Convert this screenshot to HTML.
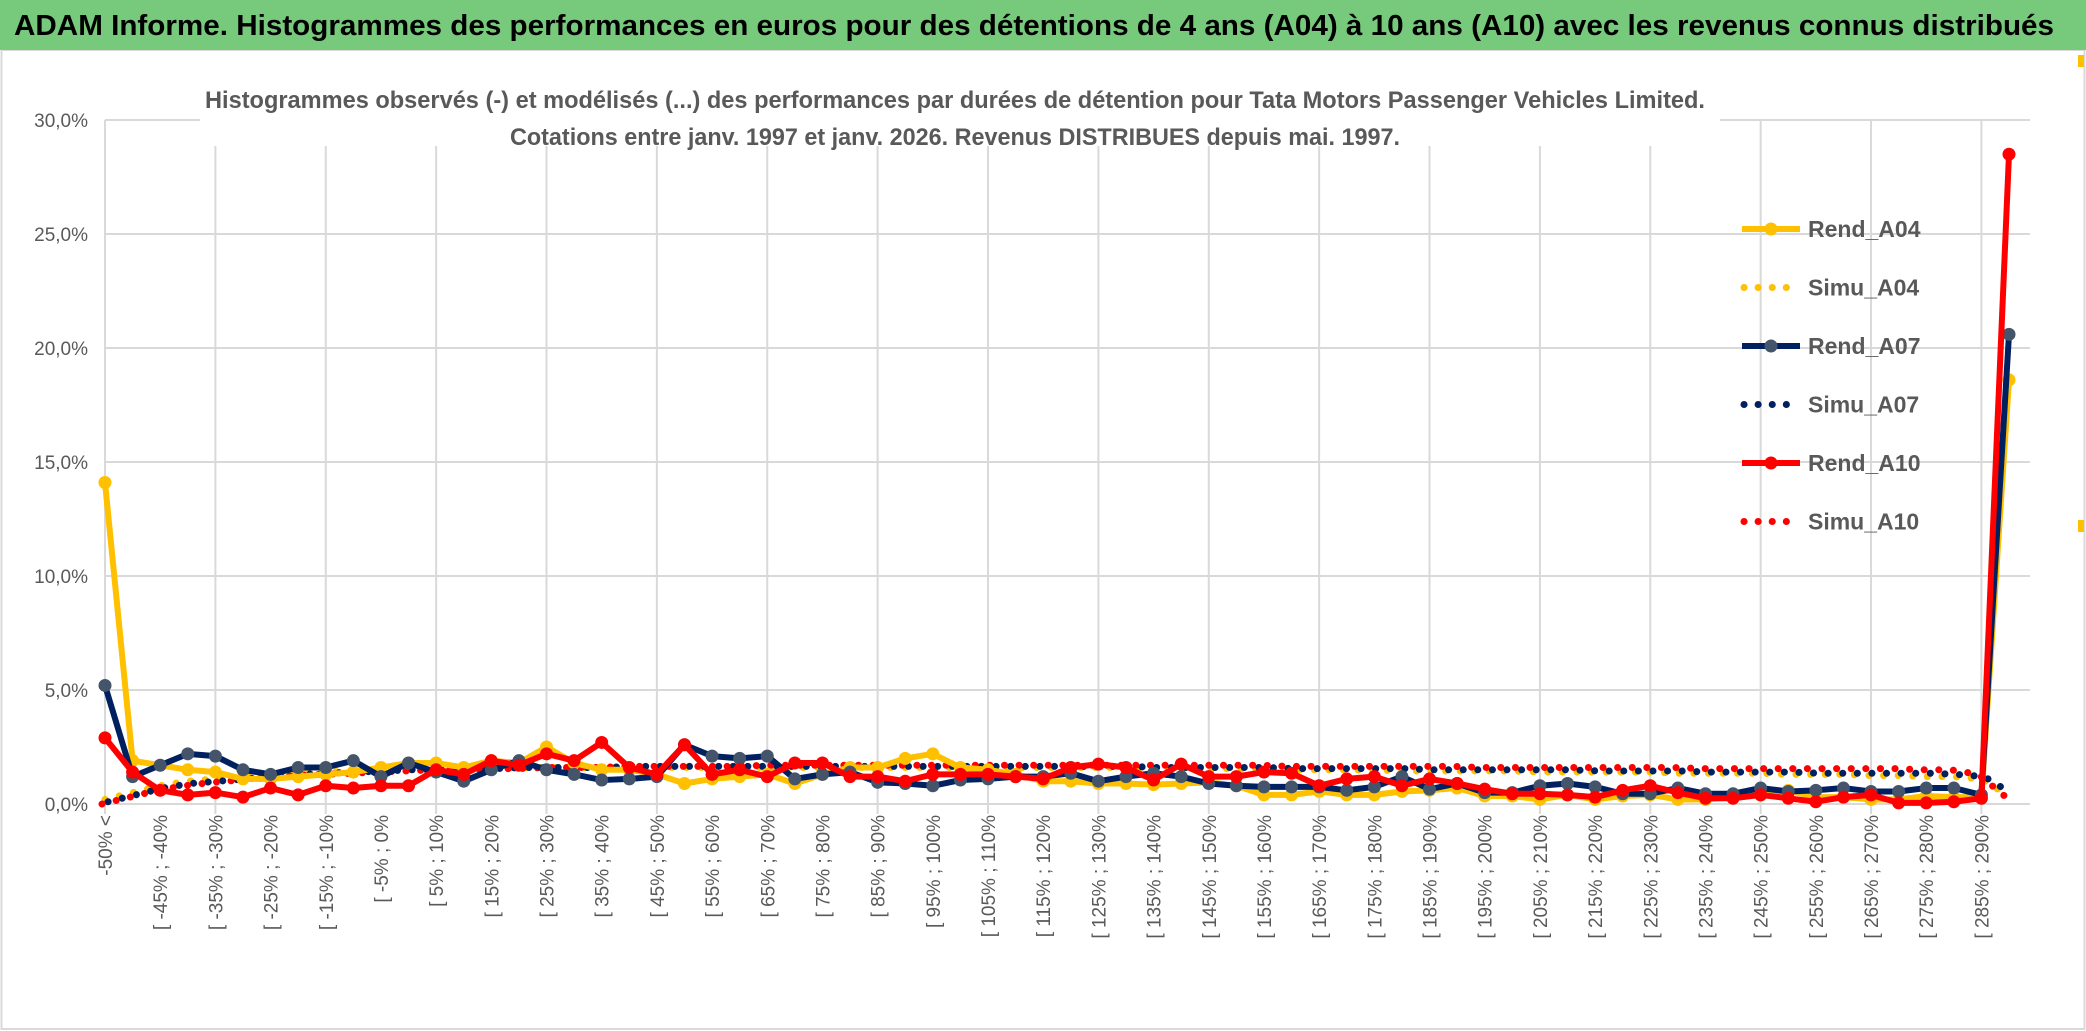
<!DOCTYPE html>
<html><head><meta charset="utf-8"><style>
body{margin:0;background:#fff;}
svg{display:block;font-family:"Liberation Sans",sans-serif;}
</style></head><body>
<svg id="chart" width="2086" height="1031" xmlns="http://www.w3.org/2000/svg">
<rect x="0" y="0" width="2086" height="1031" fill="#fff"/>
<rect x="1.5" y="50" width="2083" height="979" fill="none" stroke="#d9d9d9" stroke-width="2"/>
<rect x="2078" y="55" width="6" height="12" fill="#ffc000"/>
<rect x="2078" y="520" width="6" height="12" fill="#ffc000"/>
<rect x="0" y="0" width="2086" height="50" fill="#77c97b"/>
<text x="14" y="35" font-size="29" font-weight="bold" fill="#000" textLength="2040" lengthAdjust="spacingAndGlyphs">ADAM Informe. Histogrammes des performances en euros pour des détentions de 4 ans (A04) à 10 ans (A10) avec les revenus connus distribués</text>
<g id="grid"></g>
<g id="series"></g>
<g id="axes"></g>
<rect x="200" y="76" width="1520" height="70" fill="#fff"/>
<text x="955" y="108" font-size="24" font-weight="bold" fill="#595959" text-anchor="middle" textLength="1500" lengthAdjust="spacingAndGlyphs">Histogrammes observés (-) et modélisés (...) des performances par durées de détention pour Tata Motors Passenger Vehicles Limited.</text>
<text x="955" y="145" font-size="24" font-weight="bold" fill="#595959" text-anchor="middle" textLength="890" lengthAdjust="spacingAndGlyphs">Cotations entre janv. 1997 et janv. 2026. Revenus DISTRIBUES depuis mai. 1997.</text>
<g id="legend"></g>
</svg>
<script>
const categories = (function(){ const c=["-50% <"]; for(let k=1;k<=68;k++){c.push("[ "+(-50+5*(k-1))+"% ; "+(-50+5*k)+"%");} c.push("290% >"); return c; })();
const rendA04 = [14.1,1.9,1.7,1.5,1.4,1.1,1.1,1.2,1.3,1.4,1.6,1.8,1.8,1.6,1.9,1.8,2.5,1.8,1.5,1.5,1.3,0.9,1.1,1.2,1.3,0.9,1.3,1.6,1.6,2.0,2.2,1.6,1.5,1.3,1.0,1.0,0.9,0.9,0.85,0.9,0.95,0.8,0.4,0.4,0.55,0.4,0.4,0.55,0.6,0.7,0.35,0.35,0.2,0.4,0.2,0.35,0.4,0.2,0.2,0.3,0.4,0.6,0.3,0.3,0.2,0.2,0.35,0.3,0.3,18.6];
const rendA07 = [5.2,1.2,1.7,2.2,2.1,1.5,1.3,1.6,1.6,1.9,1.2,1.8,1.4,1.0,1.5,1.9,1.5,1.3,1.05,1.1,1.2,2.6,2.1,2.0,2.1,1.1,1.3,1.4,0.95,0.9,0.8,1.05,1.1,1.2,1.2,1.35,1.0,1.2,1.35,1.2,0.9,0.8,0.75,0.75,0.75,0.6,0.75,1.2,0.65,0.9,0.5,0.5,0.8,0.9,0.75,0.45,0.45,0.7,0.45,0.45,0.7,0.55,0.6,0.7,0.55,0.55,0.7,0.7,0.4,20.6];
const rendA10 = [2.9,1.4,0.6,0.4,0.5,0.3,0.7,0.4,0.8,0.7,0.8,0.8,1.5,1.3,1.9,1.7,2.2,1.9,2.7,1.6,1.3,2.6,1.3,1.5,1.2,1.8,1.8,1.2,1.2,1.0,1.3,1.3,1.3,1.2,1.1,1.6,1.75,1.6,1.05,1.75,1.2,1.2,1.4,1.35,0.8,1.1,1.2,0.8,1.1,0.9,0.65,0.45,0.45,0.4,0.3,0.6,0.8,0.5,0.25,0.25,0.4,0.25,0.1,0.3,0.4,0.05,0.05,0.1,0.25,28.5];
const simuA04 = [0.2,0.5,0.8,1.0,1.1,1.2,1.3,1.35,1.4,1.45,1.5,1.5,1.55,1.55,1.6,1.6,1.6,1.6,1.6,1.6,1.6,1.6,1.6,1.6,1.6,1.6,1.6,1.6,1.6,1.6,1.6,1.6,1.6,1.6,1.6,1.6,1.6,1.6,1.55,1.55,1.55,1.55,1.5,1.5,1.5,1.5,1.5,1.45,1.45,1.45,1.45,1.45,1.4,1.4,1.4,1.4,1.4,1.35,1.35,1.35,1.35,1.3,1.3,1.3,1.25,1.25,1.2,1.2,1.1,0.35];
const simuA07 = [0.1,0.4,0.7,0.9,1.0,1.1,1.2,1.3,1.35,1.4,1.45,1.5,1.5,1.55,1.55,1.6,1.6,1.6,1.6,1.65,1.65,1.65,1.65,1.65,1.65,1.65,1.65,1.65,1.65,1.65,1.65,1.65,1.65,1.65,1.65,1.65,1.65,1.65,1.6,1.6,1.6,1.6,1.6,1.55,1.55,1.55,1.55,1.55,1.5,1.5,1.5,1.5,1.5,1.5,1.45,1.45,1.45,1.45,1.4,1.4,1.4,1.4,1.35,1.35,1.35,1.35,1.35,1.3,1.2,0.45];
const simuA10 = [0.0,0.3,0.6,0.8,0.95,1.05,1.15,1.25,1.3,1.35,1.4,1.45,1.5,1.5,1.55,1.55,1.6,1.6,1.6,1.65,1.65,1.65,1.65,1.65,1.7,1.7,1.7,1.7,1.7,1.7,1.7,1.7,1.7,1.7,1.7,1.7,1.7,1.7,1.7,1.7,1.7,1.7,1.7,1.65,1.65,1.65,1.65,1.65,1.65,1.65,1.6,1.6,1.6,1.6,1.6,1.6,1.6,1.6,1.55,1.55,1.55,1.55,1.55,1.55,1.55,1.55,1.5,1.5,1.3,0.3];
const yTicks = [0,5,10,15,20,25,30];
const yTickLabels = ["0,0%","5,0%","10,0%","15,0%","20,0%","25,0%","30,0%"];
const seriesNames = ["Rend_A04","Simu_A04","Rend_A07","Simu_A07","Rend_A10","Simu_A10"];

const NS="http://www.w3.org/2000/svg";
const X0=105, X1=2009, Y0=804, YTOP=120, PLOTR=2030;
function xPos(i){return X0+(X1-X0)*i/(categories.length-1);}
function yPos(v){return Y0-(Y0-YTOP)*v/30;}
function mk(tag,attrs,parent){const e=document.createElementNS(NS,tag);for(const k in attrs)e.setAttribute(k,attrs[k]);parent.appendChild(e);return e;}
const grid=document.getElementById('grid'), axes=document.getElementById('axes'), ser=document.getElementById('series'), leg=document.getElementById('legend');

yTicks.forEach((t,i)=>{
  const l=mk('line',{x1:X0,x2:PLOTR,y1:yPos(t),y2:yPos(t),stroke:'#d9d9d9','stroke-width':2},grid);
  
  
  const tx=mk('text',{x:88,y:yPos(t)+7,'font-size':19,fill:'#595959','text-anchor':'end'},axes);
  tx.textContent=yTickLabels[i];
  
  
});
for(let i=0;i<categories.length;i+=4){
  const l=mk('line',{x1:xPos(i),x2:xPos(i),y1:YTOP,y2:Y0+10,stroke:'#d9d9d9','stroke-width':2},grid);
  
  
}
for(let i=0;i<categories.length;i+=2){
  const x=xPos(i)+7, y=815;
  const tx=mk('text',{x:x,y:y,'font-size':19,fill:'#595959','text-anchor':'end',transform:'rotate(-90 '+x+' '+y+')'},axes);
  tx.textContent=categories[i];
  
  
}
function drawSolid(vals,color,name){
  const pts=vals.map((v,i)=>xPos(i)+','+yPos(v)).join(' ');
  const p=mk('polyline',{points:pts,fill:'none',stroke:color,'stroke-width':6,'stroke-linejoin':'round'},ser);
  
  
  vals.forEach((v,i)=>{
    const c=mk('circle',{cx:xPos(i),cy:yPos(v),r:6.5,fill:color==='#002060'?'#44546a':color},ser);
    
    
  });
}
function drawDotted(vals,color,name,dx){
  const pts=vals.map((v,i)=>(xPos(i)+dx)+','+yPos(v)).join(' ');
  const p=mk('polyline',{points:pts,fill:'none',stroke:color,'stroke-width':7,'stroke-dasharray':'0.1 14.5','stroke-linecap':'round'},ser);
  
  
}
drawDotted(simuA04,'#ffc000','simu-a04',0);
drawDotted(simuA07,'#002060','simu-a07',3);
drawDotted(simuA10,'#ff0000','simu-a10',-3);
drawSolid(rendA04,'#ffc000','rend-a04');
drawSolid(rendA07,'#002060','rend-a07');
drawSolid(rendA10,'#ff0000','rend-a10');

const legColors=['#ffc000','#ffc000','#002060','#002060','#ff0000','#ff0000'];
seriesNames.forEach((n,i)=>{
  const y=229+i*58.5;
  const g=mk('g',{},leg);
  
  
  if(i%2===0){
    mk('line',{x1:1742,x2:1800,y1:y,y2:y,stroke:legColors[i],'stroke-width':6},g);
    mk('circle',{cx:1771,cy:y,r:6.5,fill:legColors[i]==='#002060'?'#44546a':legColors[i]},g);
  } else {
    mk('line',{x1:1744,x2:1800,y1:y,y2:y,stroke:legColors[i],'stroke-width':7,'stroke-dasharray':'0.1 14','stroke-linecap':'round'},g);
  }
  const t=mk('text',{x:1808,y:y+8,'font-size':23,'font-weight':'bold',fill:'#595959'},g);
  t.textContent=n;
});
</script>
</body></html>
